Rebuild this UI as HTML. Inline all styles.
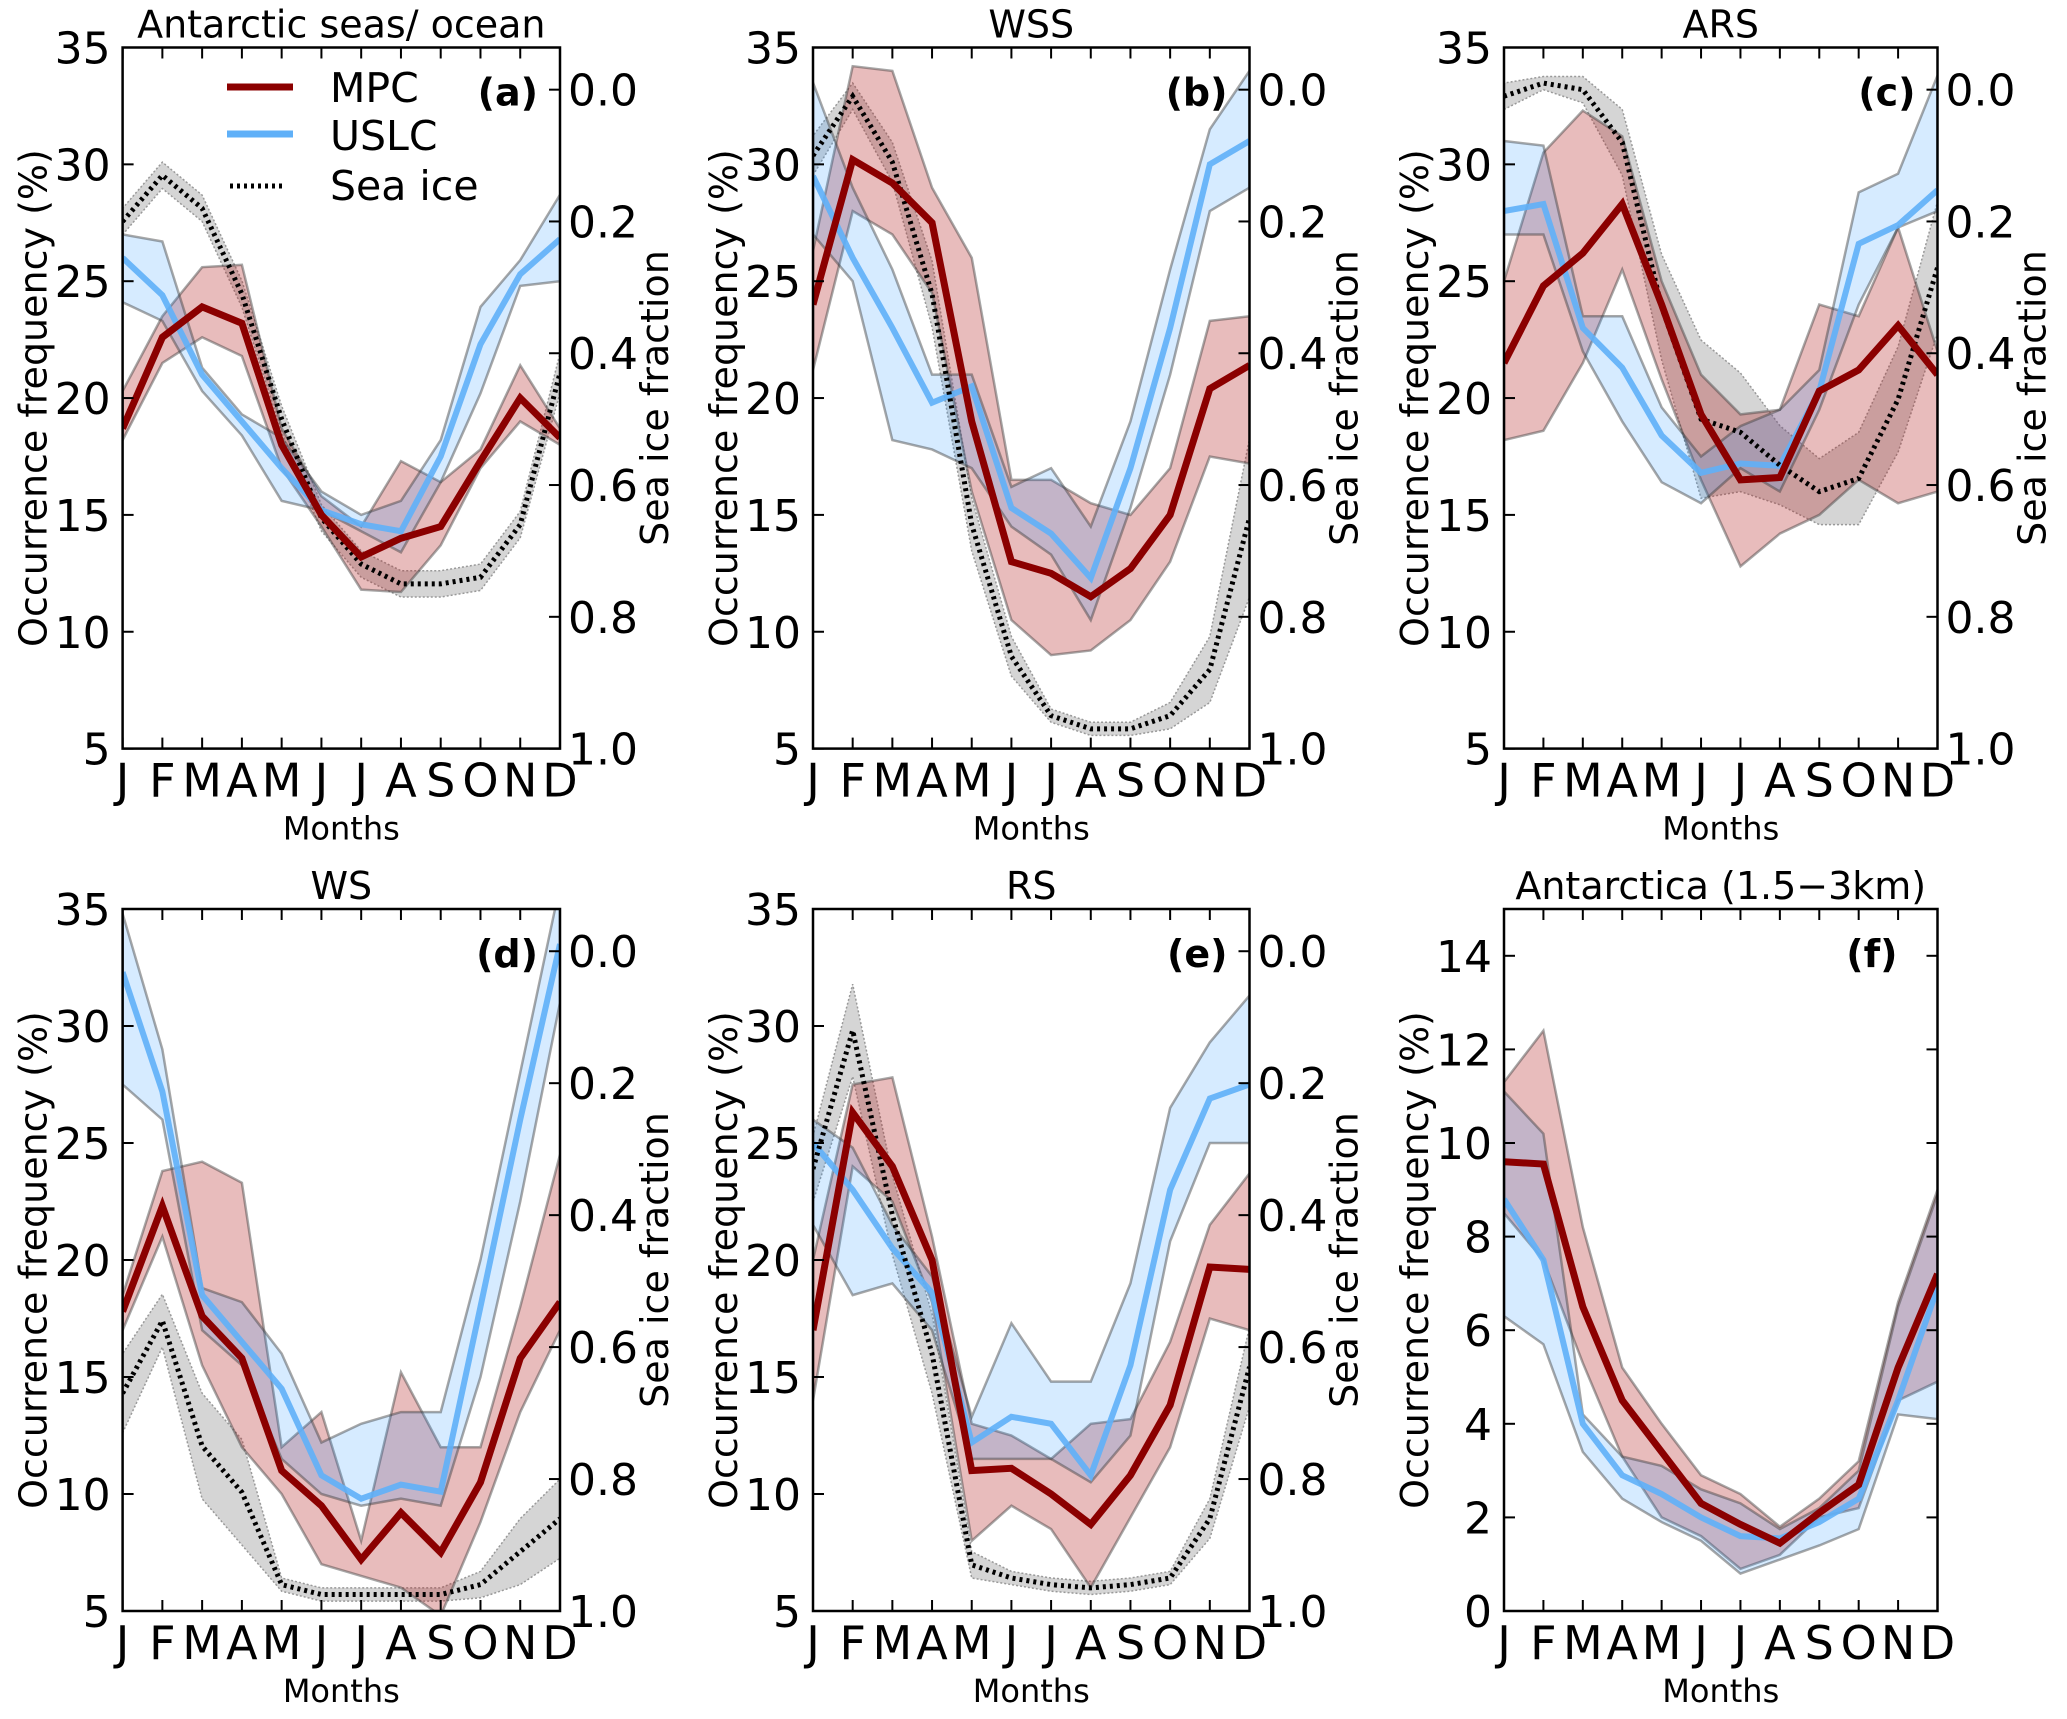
<!DOCTYPE html>
<html><head><meta charset="utf-8"><style>
html,body{margin:0;padding:0;background:#fff;}
svg{display:block;font-family:"DejaVu Sans","Liberation Sans",sans-serif;}
</style></head><body>
<svg id="fig" width="2067" height="1719" viewBox="0 0 2067 1719" xmlns="http://www.w3.org/2000/svg"></svg>
<script>
const months = ["J","F","M","A","M","J","J","A","S","O","N","D"];
const leftTicks = [5,10,15,20,25,30,35];
const leftTicksF = [0,2,4,6,8,10,12,14];
const iceTicks = [0.0,0.2,0.4,0.6,0.8,1.0];

// Panel a
const aMpc = [18.7,22.6,23.9,23.2,18,15,13.2,14,14.5,17.3,20,18.3];
const aMpcLo = [18.2,21.5,22.6,21.8,17,14.5,11.8,11.7,13.7,17,19,18];
const aMpcHi = [20.3,23.5,25.6,25.7,18.7,15.8,14.5,17.3,16.4,17.8,21.4,18.7];
const aUslc = [26,24.4,21,19,17,15.2,14.6,14.3,17.5,22.3,25.3,26.8];
const aUslcLo = [24.1,23.3,20.3,18.4,15.6,15.2,14.3,13.4,16.4,20.2,24.8,25];
const aUslcHi = [27,26.7,21.3,19.3,18.3,16,15,15.6,18.2,23.9,25.9,28.7];
const aIce = [0.20,0.13,0.18,0.31,0.50,0.65,0.72,0.75,0.75,0.74,0.66,0.43];
const aIceErr = [0.02,0.02,0.02,0.02,0.02,0.02,0.02,0.02,0.02,0.02,0.02,0.03];
// Panel b
const bMpc = [24,30.2,29.2,27.5,19,13,12.5,11.5,12.7,15,20.4,21.4];
const bMpcLo = [21.2,28,27,24.5,16,10.5,9,9.2,10.5,13,17.5,17.2];
const bMpcHi = [26.3,34.2,34,29,26,16.5,16.5,15.5,15,17,23.3,23.5];
const bUslc = [29.5,26,23,19.8,20.5,15.3,14.2,12.3,17,23,30,31];
const bUslcLo = [27,25,18.2,17.8,17,14.5,13.3,10.5,15.3,21,28,29];
const bUslcHi = [33.5,29,25.5,21,21,16.2,17,14.5,19,25.5,31.5,34];
const bIce = [0.10,0.01,0.11,0.31,0.66,0.86,0.95,0.97,0.97,0.95,0.88,0.65];
const bIceErr = [0.03,0.02,0.03,0.05,0.04,0.03,0.01,0.01,0.01,0.02,0.05,0.12];
// Panel c
const cMpc = [21.5,24.8,26.2,28.3,24,19.3,16.5,16.6,20.3,21.2,23.1,21];
const cMpcLo = [18.2,18.6,21.5,25.5,20.8,16.5,12.8,14.2,15,16.5,15.5,16];
const cMpcHi = [25,30.5,32.3,31.2,25,21,19.3,19.5,24,23.5,27.3,22];
const cUslc = [28,28.3,23,21.3,18.4,16.8,17.2,17.1,20.3,26.6,27.4,28.9];
const cUslcLo = [27,27,22,19,16.4,15.5,17,16,19.5,24,27.3,28];
const cUslcHi = [31,30.8,23.5,23.5,19.6,17.5,18.8,19.5,21.2,28.8,29.6,33.8];
const cIce = [0.01,-0.01,0.0,0.08,0.33,0.50,0.52,0.57,0.61,0.59,0.47,0.27];
const cIceErr = [0.02,0.01,0.02,0.05,0.08,0.12,0.09,0.06,0.05,0.07,0.08,0.1];
// Panel d
const dMpc = [17.8,22.3,17.6,15.8,11,9.5,7.2,9.2,7.5,10.5,15.8,18.2];
const dMpcLo = [17,21,15.5,12,10,7,6.5,6,4.8,8.8,13.5,17];
const dMpcHi = [18.5,23.8,24.2,23.3,12,13.5,8,15.2,12,12,18,24.5];
const dUslc = [32.3,27.2,18.5,16.5,14.5,10.8,9.8,10.4,10.1,18,26,33.5];
const dUslcLo = [27.5,26,17,15.5,11.5,10,9.5,9.8,9.5,15,22.5,31];
const dUslcHi = [34.8,29,18.8,18.2,16,12.2,13,13.5,13.5,20,28,36];
const dIce = [0.67,0.56,0.75,0.82,0.96,0.975,0.975,0.975,0.975,0.96,0.91,0.86];
const dIceErr = [0.06,0.04,0.08,0.08,0.01,0.01,0.01,0.01,0.01,0.02,0.05,0.06];
// Panel e
const eMpc = [17,26.3,24,20,11,11.1,10,8.7,10.8,13.8,19.7,19.6];
const eMpcLo = [14,24,22.5,18.2,8,9.5,8.5,6,9,12,17.5,17];
const eMpcHi = [20,27.5,27.8,21,13,12.5,11.5,13,13.2,16.5,21.5,23.7];
const eUslc = [25,23,20.5,18.6,12.2,13.3,13,10.8,15.5,23,26.9,27.5];
const eUslcLo = [21.5,18.5,19,17,11.5,11.5,11.5,10.5,12.5,20.8,25,25];
const eUslcHi = [26,24.8,21.5,19.3,13.3,17.3,14.8,14.8,19,26.5,29.3,31.3];
const eIce = [0.33,0.12,0.40,0.61,0.93,0.95,0.96,0.965,0.96,0.95,0.86,0.63];
const eIceErr = [0.05,0.07,0.06,0.06,0.02,0.01,0.01,0.01,0.01,0.01,0.03,0.06];
// Panel f
const fMpc = [9.6,9.55,6.5,4.5,3.4,2.3,1.85,1.45,2.1,2.7,5.2,7.2];
const fMpcLo = [8.5,7.5,5.3,3.3,2,1.6,0.9,1.2,2,2.2,4.5,4.9];
const fMpcHi = [11.3,12.4,8.2,5.2,4,2.9,2.5,1.8,2.4,3.2,6.6,9];
const fUslc = [8.8,7.5,4,2.9,2.5,2,1.6,1.55,1.9,2.4,4.5,6.9];
const fUslcLo = [6.3,5.7,3.4,2.4,1.9,1.5,0.8,1.1,1.4,1.75,4.2,4.1];
const fUslcHi = [11.1,10.2,4.2,3.3,3.1,2.6,2.3,1.75,2.2,3.0,6.5,8.9];

const NS="http://www.w3.org/2000/svg";
const svg=document.getElementById('fig');
function mk(tag,attrs,parent,name,inter){const e=document.createElementNS(NS,tag);for(const k in attrs)e.setAttribute(k,attrs[k]);


(parent||svg).appendChild(e);return e;}
function txt(s,x,y,size,anchor,parent,name,extra){const t=mk('text',Object.assign({x:x,y:y,'font-size':size,'text-anchor':anchor||'middle',fill:'#000'},extra||{}),parent,name,false);t.textContent=s;return t;}

function panel(o){
  const g=mk('g',{},svg,'panel-'+o.tag,false);
  const L=o.x0,R=o.x1,T=o.y0,B=o.y1;
  const xs=i=>L+(R-L)*i/11;
  const ys=v=>B-(v-o.ymin)/(o.ymax-o.ymin)*(B-T);
  const iceTop=B-(B-T)*(1/1.064);
  const yi=f=>B-(1-f)*(B-iceTop);
  const poly=(lo,hi,sc)=>{let p=[];for(let i=0;i<12;i++)p.push(xs(i)+','+sc(hi[i]));for(let i=11;i>=0;i--)p.push(xs(i)+','+sc(lo[i]));return p.join(' ');};
  const line=(v,sc)=>v.map((d,i)=>xs(i)+','+sc(d)).join(' ');
  const clip=mk('clipPath',{id:'clip'+o.tag},g,'clip-'+o.tag,false);
  mk('rect',{x:L,y:T,width:R-L,height:B-T},clip,'clip-rect',false);
  const pg=mk('g',{'clip-path':'url(#clip'+o.tag+')'},g,'plot-area-'+o.tag,false);
  if(o.ice){
    const lo=o.ice.map((v,i)=>v-o.iceErr[i]),hi=o.ice.map((v,i)=>v+o.iceErr[i]);
    mk('polygon',{points:poly(lo,hi,yi),fill:'rgba(150,150,150,0.4)',stroke:'#999','stroke-width':1.5,'stroke-dasharray':'2,2'},pg,'sea-ice-band',false);
  }
  mk('polygon',{points:poly(o.mpcLo,o.mpcHi,ys),fill:'rgba(178,34,34,0.3)',stroke:'rgba(60,60,60,0.45)','stroke-width':2.5},pg,'mpc-band',false);
  mk('polygon',{points:poly(o.uslcLo,o.uslcHi,ys),fill:'rgba(30,144,255,0.18)',stroke:'rgba(60,60,60,0.45)','stroke-width':2.5},pg,'uslc-band',false);
  mk('polyline',{points:line(o.uslc,ys),fill:'none',stroke:'#5fb0f8','stroke-width':6,'stroke-opacity':0.9},pg,'uslc-line',false);
  if(o.ice) mk('polyline',{points:line(o.ice,yi),fill:'none',stroke:'#000','stroke-width':5,'stroke-dasharray':'3,4'},pg,'sea-ice-line',false);
  mk('polyline',{points:line(o.mpc,ys),fill:'none',stroke:'#8b0000','stroke-width':7,'stroke-linejoin':'miter'},pg,'mpc-line',false);
  mk('rect',{x:L,y:T,width:R-L,height:B-T,fill:'none',stroke:'#000','stroke-width':2.5},g,'axes-frame',false);
  months.forEach((m,i)=>{const x=xs(i);
    mk('line',{x1:x,y1:B,x2:x,y2:B-11,stroke:'#000','stroke-width':2},g,'x-tick',false);
    mk('line',{x1:x,y1:T,x2:x,y2:T+11,stroke:'#000','stroke-width':2},g,'x-tick-top',false);
    txt(m,x,B+48,46,'middle',g,'x-tick-label');});
  o.lt.forEach(v=>{const y=ys(v);
    mk('line',{x1:L,y1:y,x2:L+11,y2:y,stroke:'#000','stroke-width':2},g,'y-tick',false);
    if(!o.ice) mk('line',{x1:R,y1:y,x2:R-11,y2:y,stroke:'#000','stroke-width':2},g,'y-tick-right',false);
    txt(String(v),L-12,y+16,44,'end',g,'y-tick-label');});
  if(o.ice){iceTicks.forEach(f=>{const y=yi(f);
    mk('line',{x1:R,y1:y,x2:R-11,y2:y,stroke:'#000','stroke-width':2},g,'ice-tick',false);
    txt(f.toFixed(1),R+8,y+16,44,'start',g,'ice-tick-label');});
    txt('Sea ice fraction',0,0,38,'middle',g,'ice-axis-title',{transform:'translate('+(R+108)+','+((T+B)/2)+') rotate(-90)'});
  }
  txt('Occurrence frequency (%)',0,0,38,'middle',g,'y-axis-title',{transform:'translate('+(L-76)+','+((T+B)/2)+') rotate(-90)'});
  txt('Months',(L+R)/2,B+91,32,'middle',g,'x-axis-title');
  txt(o.title,(L+R)/2,T-10,38,'middle',g,'panel-title');
  txt(o.label,R-(o.ice?22:40),T+58,38,'end',g,'panel-label',{'font-weight':'bold'});
  return {xs,ys};
}
const top0=47.5,top1=748.6,bot0=909,bot1=1611;
const X=[[122.6,560],[813,1249.5],[1504,1937.5]];
panel({tag:'a',x0:X[0][0],x1:X[0][1],y0:top0,y1:top1,ymin:5,ymax:35,lt:leftTicks,title:'Antarctic seas/ ocean',label:'(a)',mpc:aMpc,mpcLo:aMpcLo,mpcHi:aMpcHi,uslc:aUslc,uslcLo:aUslcLo,uslcHi:aUslcHi,ice:aIce,iceErr:aIceErr});
panel({tag:'b',x0:X[1][0],x1:X[1][1],y0:top0,y1:top1,ymin:5,ymax:35,lt:leftTicks,title:'WSS',label:'(b)',mpc:bMpc,mpcLo:bMpcLo,mpcHi:bMpcHi,uslc:bUslc,uslcLo:bUslcLo,uslcHi:bUslcHi,ice:bIce,iceErr:bIceErr});
panel({tag:'c',x0:X[2][0],x1:X[2][1],y0:top0,y1:top1,ymin:5,ymax:35,lt:leftTicks,title:'ARS',label:'(c)',mpc:cMpc,mpcLo:cMpcLo,mpcHi:cMpcHi,uslc:cUslc,uslcLo:cUslcLo,uslcHi:cUslcHi,ice:cIce,iceErr:cIceErr});
panel({tag:'d',x0:X[0][0],x1:X[0][1],y0:bot0,y1:bot1,ymin:5,ymax:35,lt:leftTicks,title:'WS',label:'(d)',mpc:dMpc,mpcLo:dMpcLo,mpcHi:dMpcHi,uslc:dUslc,uslcLo:dUslcLo,uslcHi:dUslcHi,ice:dIce,iceErr:dIceErr});
panel({tag:'e',x0:X[1][0],x1:X[1][1],y0:bot0,y1:bot1,ymin:5,ymax:35,lt:leftTicks,title:'RS',label:'(e)',mpc:eMpc,mpcLo:eMpcLo,mpcHi:eMpcHi,uslc:eUslc,uslcLo:eUslcLo,uslcHi:eUslcHi,ice:eIce,iceErr:eIceErr});
panel({tag:'f',x0:X[2][0],x1:X[2][1],y0:bot0,y1:bot1,ymin:0,ymax:15,lt:leftTicksF,title:'Antarctica (1.5\u22123km)',label:'(f)',mpc:fMpc,mpcLo:fMpcLo,mpcHi:fMpcHi,uslc:fUslc,uslcLo:fUslcLo,uslcHi:fUslcHi});
const lg=mk('g',{},svg,'legend',false);
mk('line',{x1:227,y1:87,x2:293,y2:87,stroke:'#8b0000','stroke-width':7},lg,'legend-mpc-swatch',false);
mk('line',{x1:227,y1:134,x2:293,y2:134,stroke:'#5fb0f8','stroke-width':7},lg,'legend-uslc-swatch',false);
mk('line',{x1:230,y1:186,x2:283,y2:186,stroke:'#000','stroke-width':5,'stroke-dasharray':'3,4'},lg,'legend-ice-swatch',false);
txt('MPC',330,102,41,'start',lg,'legend-mpc-label');
txt('USLC',330,150,41,'start',lg,'legend-uslc-label');
txt('Sea ice',330,200,41,'start',lg,'legend-ice-label');
</script>
</body></html>
